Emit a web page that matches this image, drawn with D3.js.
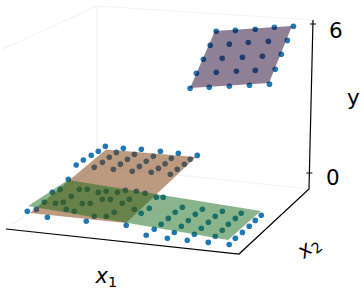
<!DOCTYPE html>
<html><head><meta charset="utf-8"><style>html,body{margin:0;background:#fff}svg{display:block}</style></head><body>
<svg id="c" width="364" height="290"></svg>
<script src="https://cdn.jsdelivr.net/npm/d3@7"></script>
<script>
// Values
const yTicks=[0,6];
const lowerX1=[.063,.149,.230,.320,.405,.494,.057,.138,.223,.312,.397,.481,.046,.131,.216,.304,.393,.477,.035,.125,.209,.297,.385,.468,.029,.114,.202,.289,.372,.460,
 .062,.056,.074,.151,.183,.240,.268,.317,.341,.390,.434,.495,.523,.068,.116,.143,.149,.223,.254,.286,.318,.382,.394,.454,.510,.497,.040,.067,.144,.184,.224,.312,.323,.371,.386,.484];
const lowerX2=[.940,.937,.947,.946,.944,.943,.871,.881,.879,.878,.875,.886,.815,.813,.811,.810,.805,.820,.750,.746,.744,.743,.742,.753,.683,.678,.678,.677,.688,.687,
 .512,.351,.393,.414,.423,.403,.423,.425,.456,.457,.444,.415,.422,.236,.238,.257,.330,.267,.276,.332,.341,.312,.363,.262,.289,.227,.124,.154,.084,.187,.175,.085,.145,.158,.208,.088];
const lowerY=[.40,.40,.41,.41,.41,.40,.35,.35,.35,.35,.35,.36,.30,.30,.30,.30,.29,.31,.25,.25,.25,.24,.24,.25,.20,.19,.19,.19,.20,.20,
 .06,-.07,-.04,-.02,-.01,-.03,-.01,-.01,.01,.02,.01,-.02,-.01,-.16,-.16,-.14,-.09,-.14,-.13,-.08,-.08,-.10,-.06,-.14,-.12,-.17,-.25,-.23,-.28,-.20,-.21,-.28,-.23,-.22,-.18,-.28];
const rightX1=[.639,.629,.624,.618,.609,.600,.727,.717,.711,.705,.699,.693,.815,.804,.798,.791,.785,.778,.898,.892,.885,.881,.874,.867,.986,.979,.975,.968,.960,.956];
const rightX2=[.336,.275,.205,.135,.077,.008,.337,.276,.206,.137,.068,.001,.338,.277,.207,.138,.069,.002,.338,.278,.208,.140,.072,.004,.339,.279,.210,.141,.073,.006];
const rightY=[-.08,-.13,-.19,-.24,-.29,-.34,-.08,-.13,-.19,-.24,-.30,-.35,-.08,-.13,-.18,-.24,-.29,-.35,-.08,-.13,-.18,-.24,-.29,-.35,-.08,-.13,-.18,-.24,-.29,-.35];
const upperX1=[.583,.672,.763,.847,.932,.589,.677,.761,.851,.935,.591,.677,.768,.857,.938,.592,.682,.772,.856,.943,.599,.685,.774,.862,.949];
const upperX2=[.953,.948,.943,.946,.941,.854,.850,.852,.848,.843,.757,.753,.749,.745,.748,.663,.659,.655,.651,.648,.562,.559,.556,.553,.549];
const upperY=[5.53,5.63,5.74,5.87,5.97,5.14,5.25,5.37,5.48,5.58,4.76,4.86,4.97,5.08,5.21,4.38,4.49,4.60,4.70,4.81,3.99,4.10,4.21,4.32,4.43];
const brownX1=[.081,.496,.474,.058], brownX2=[.902,.921,.111,.109], brownY=[.37,.39,-.26,-.26];
const greenX1=[.020,.064,.970,.937], greenX2=[.179,.504,.384,.048], greenY=[-.21,.05,-.04,-.31];
const purpleX1=[.598,.576,.925,.944], purpleX2=[.565,.956,.944,.558], purpleY=[4.00,5.53,5.97,4.45];
const x1Domain=[0,1], x2Domain=[0,1], yDomain=[-.644,6.161];

// Layout of the 3D box on the page
const floorQuad=[[6,229],[239,254],[309,189],[97,166.3]], topQuad=[[3,49],[240,68],[313,20],[97,6]];
function quad(p){const [p0,p1,p2,p3]=p;
 const dx1=p1[0]-p2[0],dx2=p3[0]-p2[0],dx3=p0[0]-p1[0]+p2[0]-p3[0],dy1=p1[1]-p2[1],dy2=p3[1]-p2[1],dy3=p0[1]-p1[1]+p2[1]-p3[1];
 const den=dx1*dy2-dx2*dy1,g=(dx3*dy2-dx2*dy3)/den,h=(dx1*dy3-dx3*dy1)/den;
 const a=p1[0]-p0[0]+g*p1[0],b=p3[0]-p0[0]+h*p3[0],c=p0[0],d=p1[1]-p0[1]+g*p1[1],e=p3[1]-p0[1]+h*p3[1],f=p0[1];
 return (s,t)=>{const w=g*s+h*t+1;return [(a*s+b*t+c)/w,(d*s+e*t+f)/w]}}
const F=quad(floorQuad),T=quad(topQuad);
const sx=d3.scaleLinear().domain(x1Domain).range([0,1]),sy=d3.scaleLinear().domain(x2Domain).range([0,1]),sz=d3.scaleLinear().domain(yDomain).range([0,1]);
function P(x1,x2,y){const s=sx(x1),t=sy(x2),z=sz(y),a=F(s,t),b=T(s,t);return [a[0]*(1-z)+b[0]*z,a[1]*(1-z)+b[1]*z]}

const svg=d3.select('#c'), line=d3.line();
const [y0,y1]=yDomain;
// faint panes
const panes=[[[0,0,y0],[0,1,y0],[1,1,y0]],[[0,0,y1],[0,1,y1],[1,1,y1]],[[0,1,y0],[0,1,y1]]];
svg.selectAll('path.pane').data(panes).join('path').attr('class','pane').attr('fill','none').attr('stroke','#f3f3f3').attr('stroke-width',1.2)
 .attr('d',d=>line(d.map(p=>P(...p))));
// axes
const axes=[[[0,0,y0],[1,0,y0],[1,1,y0],[1,1,y1]]];
svg.selectAll('path.axis').data(axes).join('path').attr('class','axis').attr('fill','none').attr('stroke','#000').attr('stroke-width',1.2)
 .attr('d',d=>line(d.map(p=>P(...p))));
svg.selectAll('line.tick').data(yTicks).join('line').attr('class','tick').attr('stroke','#000').attr('stroke-width',1)
 .attr('x1',d=>P(1,1,d)[0]-3).attr('x2',d=>P(1,1,d)[0]+3).attr('y1',d=>P(1,1,d)[1]).attr('y2',d=>P(1,1,d)[1]);
// dots go under the translucent planes
function dots(xs,ys,zs){svg.append('g').selectAll('circle').data(xs.map((x,i)=>P(x,ys[i],zs[i]))).join('circle')
 .attr('cx',d=>d[0]).attr('cy',d=>d[1]).attr('r',2.8).attr('fill','#1f77b4');}
dots(lowerX1,lowerX2,lowerY);dots(rightX1,rightX2,rightY);dots(upperX1,upperX2,upperY);
function plane(xs,ys,zs,col){svg.append('path').attr('d',line(xs.map((x,i)=>P(x,ys[i],zs[i])))+'Z').attr('fill',col).attr('fill-opacity',.5);}
plane(brownX1,brownX2,brownY,'#793500');
plane(greenX1,greenX2,greenY,'#156917');
plane(purpleX1,purpleX2,purpleY,'#1f012d');
// text
const font="'DejaVu Sans'";
const t=(x,y,s)=>svg.append('text').attr('x',x).attr('y',y).attr('font-family',font).attr('font-size',21.5).attr('fill','#000').text(s);
t(329,38,'6');t(326,185,'0');t(347,105,'y');
function sub(g,a,b){g.append('tspan').attr('font-style','italic').text(a);g.append('tspan').attr('font-size',14.5).attr('dy',4).text(b);}
sub(svg.append('text').attr('x',95.5).attr('y',283).attr('font-family',font).attr('font-size',21),'x','1');
sub(svg.append('text').attr('transform','translate(304,259) rotate(-38)').attr('font-family',font).attr('font-size',21),'x','2');
</script></body></html>
